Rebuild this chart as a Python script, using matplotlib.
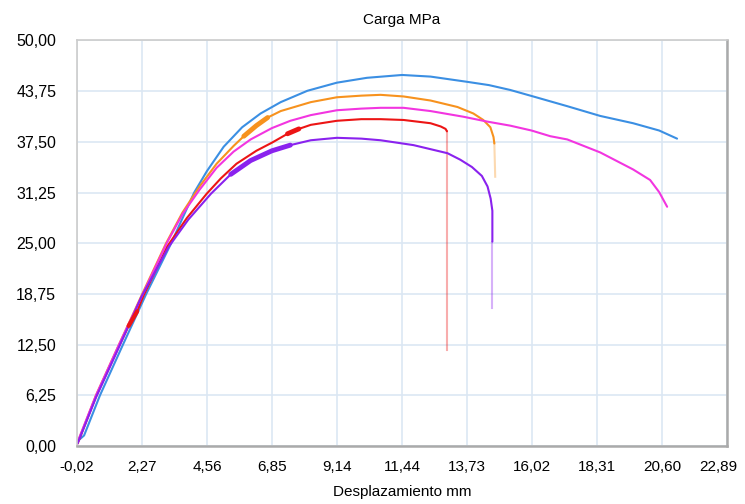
import numpy as np
from matplotlib import pyplot as plt
from matplotlib.transforms import ScaledTranslation

plt.rcParams['font.family'] = ['Liberation Sans', 'DejaVu Sans']

# tick values of the original chart
xticks = [-0.02, 2.27, 4.56, 6.85, 9.14, 11.44, 13.73, 16.02, 18.31, 20.60, 22.89]
yticks = [0.00, 6.25, 12.50, 18.75, 25.00, 31.25, 37.50, 43.75, 50.00]

# curves (desplazamiento mm, carga MPa)
blue_x = [0.0, 0.23, 0.79, 1.6, 2.42, 3.30, 3.7, 4.11, 4.56, 5.15, 5.8, 6.45, 7.16, 8.1,
          9.14, 10.2, 11.44, 12.44, 13.74, 14.5, 15.25, 16.06, 17.26, 18.42, 19.58, 20.5, 21.13]
blue_y = [0.6, 1.3, 6.25, 12.5, 18.75, 25.0, 28.1, 31.25, 33.9, 36.9, 39.3, 41.0, 42.4, 43.8,
          44.8, 45.4, 45.75, 45.55, 44.9, 44.5, 43.9, 43.1, 41.9, 40.7, 39.8, 38.9, 37.9]

orange_x = [0.0, 0.65, 1.46, 2.28, 3.12, 3.7, 4.3, 4.9, 5.5, 5.86, 6.3, 6.70, 7.16, 8.22,
            9.14, 10.0, 10.68, 11.49, 12.44, 13.39, 13.95, 14.30, 14.55, 14.66, 14.69, 14.72]
orange_y = [0.4, 6.25, 12.5, 18.75, 25.0, 28.8, 32.0, 34.8, 37.0, 38.2, 39.5, 40.5, 41.3, 42.4,
            43.0, 43.2, 43.3, 43.1, 42.6, 41.8, 41.0, 40.2, 39.3, 38.1, 37.3, 33.2]

red_x = [0.0, 0.65, 1.46, 1.8, 2.1, 2.32, 3.16, 3.85, 4.55, 5.05, 5.6, 6.3, 6.85, 7.4,
         7.8, 8.22, 9.14, 10.0, 10.68, 11.49, 12.44, 12.8, 12.97, 13.02, 13.02]
red_y = [0.3, 6.1, 12.3, 14.8, 16.6, 18.5, 24.6, 28.1, 31.1, 33.0, 34.8, 36.4, 37.4, 38.5,
         39.1, 39.6, 40.1, 40.3, 40.3, 40.2, 39.8, 39.4, 39.1, 38.8, 11.8]

pink_x = [0.0, 0.65, 1.46, 2.30, 3.14, 3.7, 4.3, 4.9, 5.5, 6.1, 6.85, 7.5, 8.22, 9.14, 10.0,
          10.68, 11.49, 12.44, 13.6, 14.44, 15.25, 16.0, 16.66, 17.26, 18.42, 19.58, 20.18, 20.5, 20.78]
pink_y = [0.5, 6.25, 12.5, 18.75, 25.0, 28.6, 31.6, 34.3, 36.3, 37.8, 39.2, 40.1, 40.8, 41.4, 41.6,
          41.7, 41.7, 41.3, 40.6, 40.0, 39.5, 38.9, 38.2, 37.8, 36.2, 34.1, 32.8, 31.3, 29.5]

purple_x = [0.0, 0.65, 1.46, 2.25, 3.2, 3.9, 4.70, 5.4, 6.1, 6.85, 7.5, 8.22, 9.14, 10.0,
            10.68, 11.84, 13.04, 13.49, 13.9, 14.25, 14.45, 14.56, 14.62, 14.62, 14.62]
purple_y = [0.3, 6.0, 12.2, 18.4, 24.5, 27.9, 31.1, 33.5, 35.2, 36.4, 37.1, 37.7, 38.0, 37.9,
            37.7, 37.1, 36.1, 35.3, 34.4, 33.3, 32.0, 30.5, 29.0, 25.2, 17.0]

# colour and the x range drawn thick (noisy part of the record)
series = [
    (blue_x, blue_y, '#3b8fe3', None),
    (orange_x, orange_y, '#f7921e', (5.75, 6.7)),
    (red_x, red_y, '#ec1515', (7.15, 7.8)),
    (pink_x, pink_y, '#f235e0', None),
    (purple_x, purple_y, '#8a22ee', (5.0, 8.0)),
]

fig = plt.figure(figsize=(7.45, 5.04), dpi=100)
ax = fig.add_axes([77/745, 1-446/504, 650/745, 405.5/504])

for xs, ys, col, thick in series:
    xs = np.array(xs); ys = np.array(ys)
    fail = ys[-1] < ys[-2] - 3
    if fail:
        ax.plot(xs[:-1], ys[:-1], color=col, lw=1.5, solid_capstyle='round')
        ax.plot(xs[-2:], ys[-2:], color=col, lw=1.5, alpha=0.35)
    else:
        ax.plot(xs, ys, color=col, lw=1.5, solid_capstyle='round')
    if thick:
        m = (xs >= thick[0]) & (xs <= thick[1])
        ax.plot(xs[m], ys[m], color=col, lw=3.5, solid_capstyle='round')
# small noisy patch of the red curve near 2 mm
rx = np.array(red_x); ry = np.array(red_y)
m = (rx >= 1.75) & (rx <= 2.15)
ax.plot(rx[m], ry[m], color='#ec1515', lw=3.0, solid_capstyle='round')

ax.set_xlim(xticks[0], xticks[-1])
ax.set_ylim(yticks[0], yticks[-1])
ax.set_xticks(xticks)
ax.set_xticklabels([f'{v:.2f}'.replace('.', ',') for v in xticks])
ax.set_yticks(yticks)
ax.set_yticklabels([f'{v:.2f}'.replace('.', ',') for v in yticks])
ax.grid(True, color='#dbe7f3', lw=1.2)
ax.set_axisbelow(True)
ax.tick_params(length=0, colors='black')
ax.tick_params(axis='y', pad=15, labelsize=11.5)
ax.tick_params(axis='x', pad=10, labelsize=11)
# last x label sits a little left of its tick, as in the original
last = ax.get_xticklabels()[-1]
last.set_transform(last.get_transform() + ScaledTranslation(-6/72, 0, fig.dpi_scale_trans))
for s in ['left', 'top']:
    ax.spines[s].set_color('#cccccc')
    ax.spines[s].set_linewidth(1.2)
for s in ['right', 'bottom']:
    ax.spines[s].set_color('#aaaaaa')
    ax.spines[s].set_linewidth(1.8)

ax.set_title('Carga MPa', fontsize=11, pad=12)
ax.set_xlabel('Desplazamiento mm', fontsize=11, labelpad=8)

fig.savefig('out.png', dpi=100)
